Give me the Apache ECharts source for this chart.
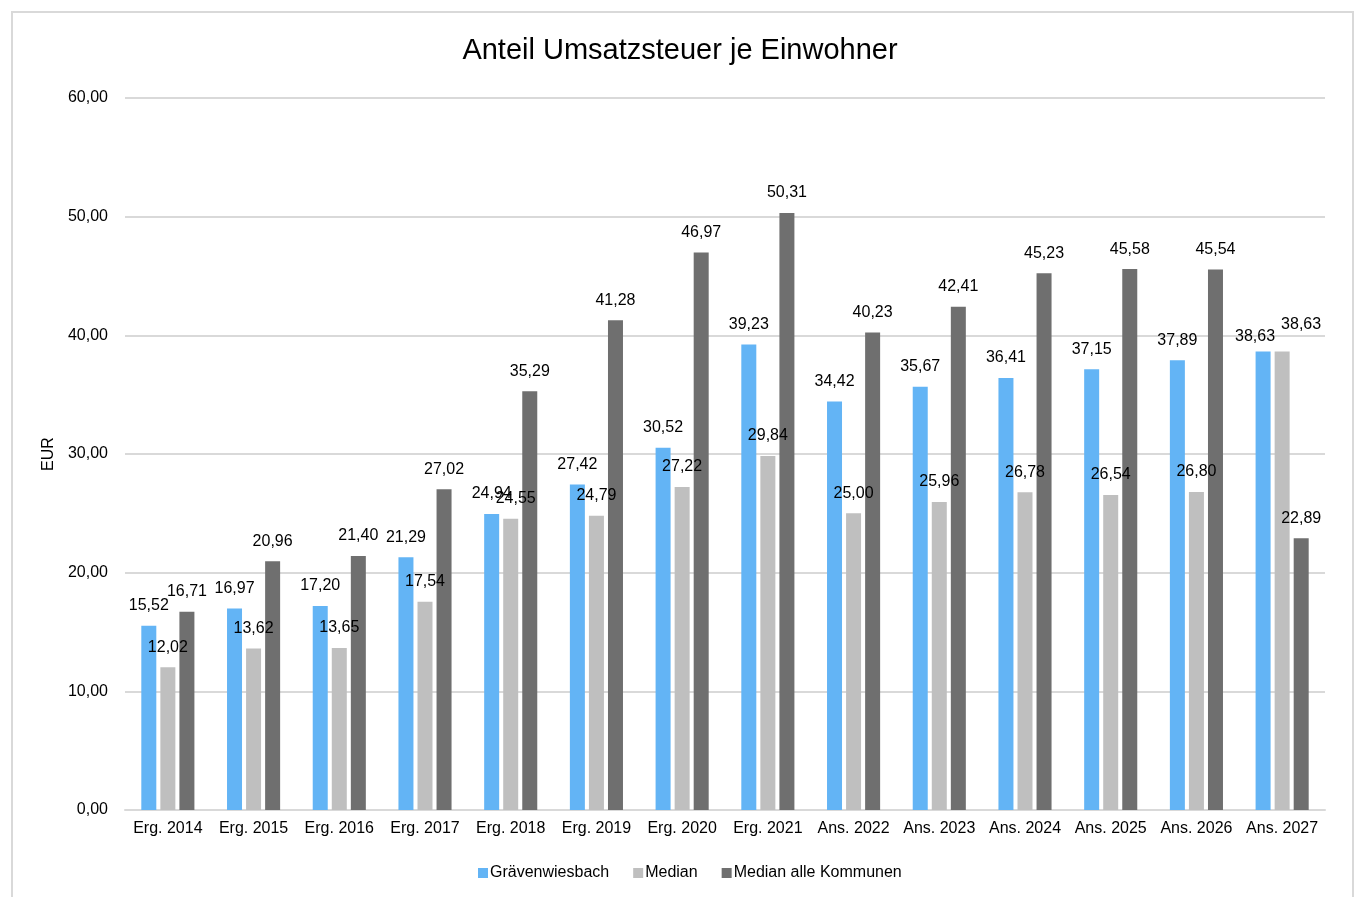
<!DOCTYPE html>
<html><head><meta charset="utf-8">
<script src="https://cdn.jsdelivr.net/npm/echarts@6/dist/echarts.min.js"></script>
<style>html,body{margin:0;padding:0;background:#fff;}
#frame{position:absolute;left:11px;top:11px;width:1343px;height:900px;border:2px solid #d9d9d9;box-sizing:border-box;}
#c{position:absolute;left:0;top:0;width:1360px;height:897px;}</style>
</head><body><div id="frame"></div><div id="c"></div>
<script>
const categories = ['Erg. 2014','Erg. 2015','Erg. 2016','Erg. 2017','Erg. 2018','Erg. 2019','Erg. 2020','Erg. 2021','Ans. 2022','Ans. 2023','Ans. 2024','Ans. 2025','Ans. 2026','Ans. 2027'];
const graevenwiesbach = [15.52,16.97,17.20,21.29,24.94,27.42,30.52,39.23,34.42,35.67,36.41,37.15,37.89,38.63];
const median = [12.02,13.62,13.65,17.54,24.55,24.79,27.22,29.84,25.00,25.96,26.78,26.54,26.80,38.63];
const medianAlle = [16.71,20.96,21.40,27.02,35.29,41.28,46.97,50.31,40.23,42.41,45.23,45.58,45.54,22.89];
const seriesNames = ['Grävenwiesbach','Median','Median alle Kommunen'];
const colors = ['#63b4f5','#bfbfbf','#6f6f6f'];
const fmt = v => v.toFixed(2).replace('.', ',');
const font = 'Liberation Sans, Arial, sans-serif';
const chart = echarts.init(document.getElementById('c'));
// label offsets for overlapping labels (style only)
const labelOffsets = [{13:[-8,5]}, {4:[5,0], 13:[19,-7]}, {}];
const mk = (name, data, i) => ({
  name, type:'bar', barWidth:15, barGap:'27%',
  data: data.map((v, k) => labelOffsets[i][k] ? {value:v, label:{offset:labelOffsets[i][k]}} : v),
  itemStyle:{color:colors[i]},
  label:{show:true, position:'top', distance:12, color:'#000', fontSize:16, fontFamily:font, formatter:p=>fmt(p.value)}
});
chart.setOption({
  animation:false,
  color:colors,
  title:{text:'Anteil Umsatzsteuer je Einwohner', left:'center', top:31, textStyle:{fontFamily:font, fontSize:29, fontWeight:'normal', color:'#000'}},
  legend:{bottom:11, left:473, itemWidth:10, itemHeight:10, itemGap:24, icon:'rect', textStyle:{fontFamily:font, fontSize:16, color:'#000', padding:[0,0,0,-3]}, data:seriesNames},
  grid:{left:125, right:35, top:98, bottom:87},
  xAxis:{type:'category', data:categories, axisTick:{show:false}, axisLine:{lineStyle:{color:'#d9d9d9', width:2}},
    axisLabel:{color:'#000', fontSize:16, fontFamily:font, margin:11, interval:0}},
  yAxis:{type:'value', min:0, max:60, interval:10, name:'EUR', nameLocation:'middle', nameGap:52, nameRotate:90,
    nameTextStyle:{color:'#000', fontSize:16, fontFamily:font},
    axisLabel:{color:'#000', fontSize:16, fontFamily:font, margin:17, formatter:v=>fmt(v)},
    splitLine:{lineStyle:{color:'#d9d9d9', width:2}}},
  series:[mk(seriesNames[0], graevenwiesbach, 0), mk(seriesNames[1], median, 1), mk(seriesNames[2], medianAlle, 2)]
});
</script></body></html>
